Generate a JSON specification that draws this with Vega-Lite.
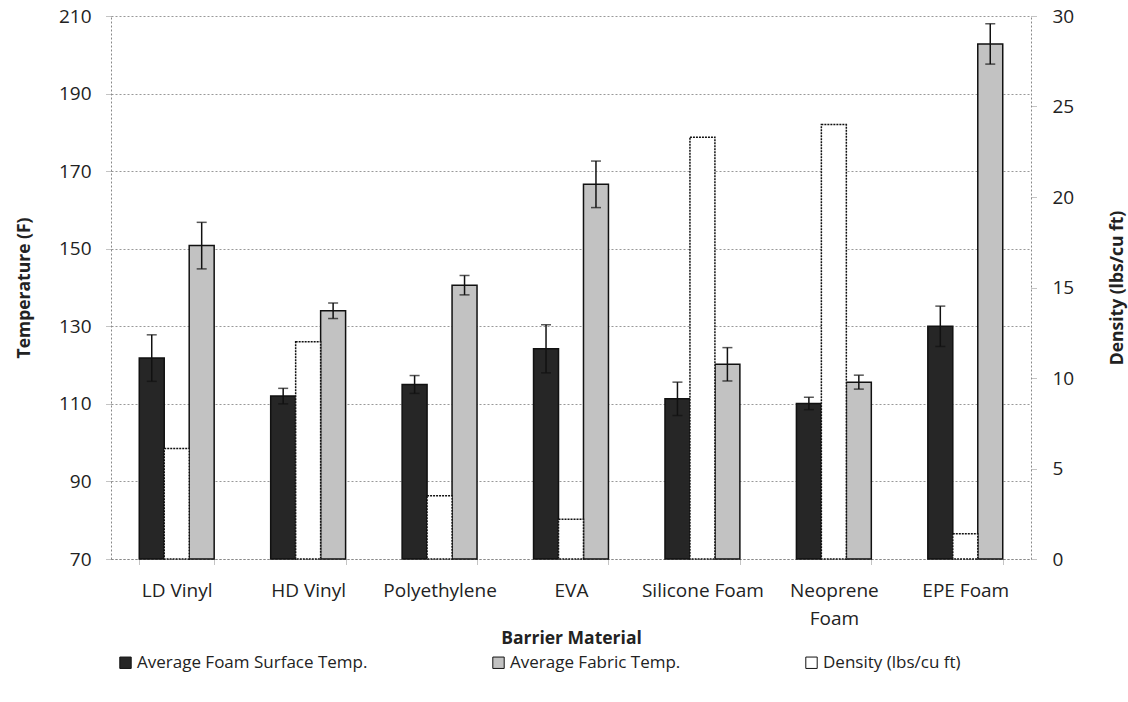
{
  "$schema": "https://vega.github.io/schema/vega-lite/v6.json",
  "width": 920,
  "height": 543,
  "autosize": "none",
  "padding": {"left": 111, "top": 16, "right": 97, "bottom": 143},
  "background": "white",
  "config": {
    "font": "Open Sans",
    "view": {"stroke": null},
    "axis": {
      "labelFont": "Open Sans",
      "labelFontSize": 19,
      "labelColor": "#222",
      "titleFont": "Open Sans",
      "titleFontSize": 17.5,
      "titleFontWeight": "bold",
      "titleColor": "#222",
      "domainColor": "#888",
      "domainDash": [2, 2],
      "domainWidth": 1,
      "tickColor": "#888",
      "tickDash": [1, 1],
      "gridColor": "#999",
      "gridDash": [2, 2],
      "gridWidth": 1
    }
  },
  "data": {
    "values": [
      {"material": "LD Vinyl", "series": "Average Foam Surface Temp.", "value": 121.8, "low": 115.8, "high": 127.8},
      {"material": "LD Vinyl", "series": "Density (lbs/cu ft)", "value": 6.1},
      {"material": "LD Vinyl", "series": "Average Fabric Temp.", "value": 150.8, "low": 144.8, "high": 156.8},
      {"material": "HD Vinyl", "series": "Average Foam Surface Temp.", "value": 112.0, "low": 110.0, "high": 114.0},
      {"material": "HD Vinyl", "series": "Density (lbs/cu ft)", "value": 12.0},
      {"material": "HD Vinyl", "series": "Average Fabric Temp.", "value": 134.0, "low": 132.0, "high": 136.0},
      {"material": "Polyethylene", "series": "Average Foam Surface Temp.", "value": 115.0, "low": 112.7, "high": 117.3},
      {"material": "Polyethylene", "series": "Density (lbs/cu ft)", "value": 3.5},
      {"material": "Polyethylene", "series": "Average Fabric Temp.", "value": 140.6, "low": 138.1, "high": 143.1},
      {"material": "EVA", "series": "Average Foam Surface Temp.", "value": 124.2, "low": 118.0, "high": 130.4},
      {"material": "EVA", "series": "Density (lbs/cu ft)", "value": 2.2},
      {"material": "EVA", "series": "Average Fabric Temp.", "value": 166.6, "low": 160.6, "high": 172.6},
      {"material": "Silicone Foam", "series": "Average Foam Surface Temp.", "value": 111.3, "low": 107.0, "high": 115.6},
      {"material": "Silicone Foam", "series": "Density (lbs/cu ft)", "value": 23.3},
      {"material": "Silicone Foam", "series": "Average Fabric Temp.", "value": 120.2, "low": 115.9, "high": 124.5},
      {"material": "Neoprene Foam", "series": "Average Foam Surface Temp.", "value": 110.1, "low": 108.5, "high": 111.7},
      {"material": "Neoprene Foam", "series": "Density (lbs/cu ft)", "value": 24.0},
      {"material": "Neoprene Foam", "series": "Average Fabric Temp.", "value": 115.6, "low": 113.8, "high": 117.4},
      {"material": "EPE Foam", "series": "Average Foam Surface Temp.", "value": 130.0, "low": 124.8, "high": 135.2},
      {"material": "EPE Foam", "series": "Density (lbs/cu ft)", "value": 1.4},
      {"material": "EPE Foam", "series": "Average Fabric Temp.", "value": 202.8, "low": 197.6, "high": 208.0}
    ]
  },
  "encoding": {
    "x": {
      "field": "material",
      "type": "nominal",
      "sort": ["LD Vinyl", "HD Vinyl", "Polyethylene", "EVA", "Silicone Foam", "Neoprene Foam", "EPE Foam"],
      "scale": {"paddingInner": 0.43, "paddingOuter": 0.215},
      "axis": {
        "title": "Barrier Material",
        "labelAngle": 0,
        "labelPadding": 17,
        "tickBand": "extent",
        "tickSize": 5,
        "titlePadding": 1,
        "labelExpr": "datum.label == 'Neoprene Foam' ? ['Neoprene', 'Foam'] : datum.label",
        "labelLineHeight": 28
      }
    },
    "xOffset": {
      "field": "series",
      "type": "nominal",
      "scale": {
        "domain": ["Average Foam Surface Temp.", "Density (lbs/cu ft)", "Average Fabric Temp."],
        "paddingInner": 0,
        "paddingOuter": 0
      }
    }
  },
  "layer": [
    {
      "transform": [{"filter": "datum.series !== 'Density (lbs/cu ft)'"}],
      "layer": [
        {
          "mark": {"type": "bar", "stroke": "#111", "strokeWidth": 1.5},
          "encoding": {
            "y": {
              "field": "value",
              "type": "quantitative",
              "scale": {"domain": [70, 210], "zero": false, "nice": false},
              "axis": {
                "title": "Temperature (F)",
                "values": [70, 90, 110, 130, 150, 170, 190, 210],
                "grid": true,
                "tickSize": 6,
                "labelPadding": 14,
                "titlePadding": 25
              }
            },
            "y2": {"datum": 70},
            "fill": {
              "field": "series",
              "type": "nominal",
              "scale": {
                "domain": ["Average Foam Surface Temp.", "Average Fabric Temp.", "Density (lbs/cu ft)"],
                "range": ["#262626", "#c2c2c2", "#ffffff"]
              },
              "legend": {
                "title": null,
                "orient": "none",
                "legendX": 6,
                "legendY": 638,
                "direction": "horizontal",
                "columns": 3,
                "columnPadding": 122,
                "symbolType": "square",
                "symbolSize": 130,
                "symbolStrokeColor": "#111",
                "symbolStrokeWidth": 1,
                "labelFont": "Open Sans",
                "labelFontSize": 17,
                "labelColor": "#222",
                "labelOffset": 3,
                "labelLimit": 400
              }
            }
          }
        },
        {
          "mark": {"type": "rule", "color": "#111", "strokeWidth": 1.5},
          "encoding": {
            "y": {"field": "low", "type": "quantitative"},
            "y2": {"field": "high"}
          }
        },
        {
          "mark": {"type": "tick", "color": "#111", "thickness": 1.5, "size": 10, "orient": "horizontal"},
          "encoding": {"y": {"field": "high", "type": "quantitative"}}
        },
        {
          "mark": {"type": "tick", "color": "#111", "thickness": 1.5, "size": 10, "orient": "horizontal"},
          "encoding": {"y": {"field": "low", "type": "quantitative"}}
        }
      ]
    },
    {
      "transform": [{"filter": "datum.series === 'Density (lbs/cu ft)'"}],
      "mark": {"type": "bar", "stroke": "#111", "strokeWidth": 1.5, "strokeDash": [2, 1]},
      "encoding": {
        "y": {
          "field": "value",
          "type": "quantitative",
          "scale": {"domain": [0, 30], "nice": false},
          "axis": {
            "orient": "right",
            "title": "Density (lbs/cu ft)",
            "values": [0, 5, 10, 15, 20, 25, 30],
            "grid": false,
            "tickSize": 5,
            "labelPadding": 16,
            "titleAngle": 270,
            "titlePadding": 53
          }
        },
        "fill": {"field": "series", "type": "nominal"}
      }
    }
  ],
  "resolve": {"scale": {"y": "independent"}}
}
